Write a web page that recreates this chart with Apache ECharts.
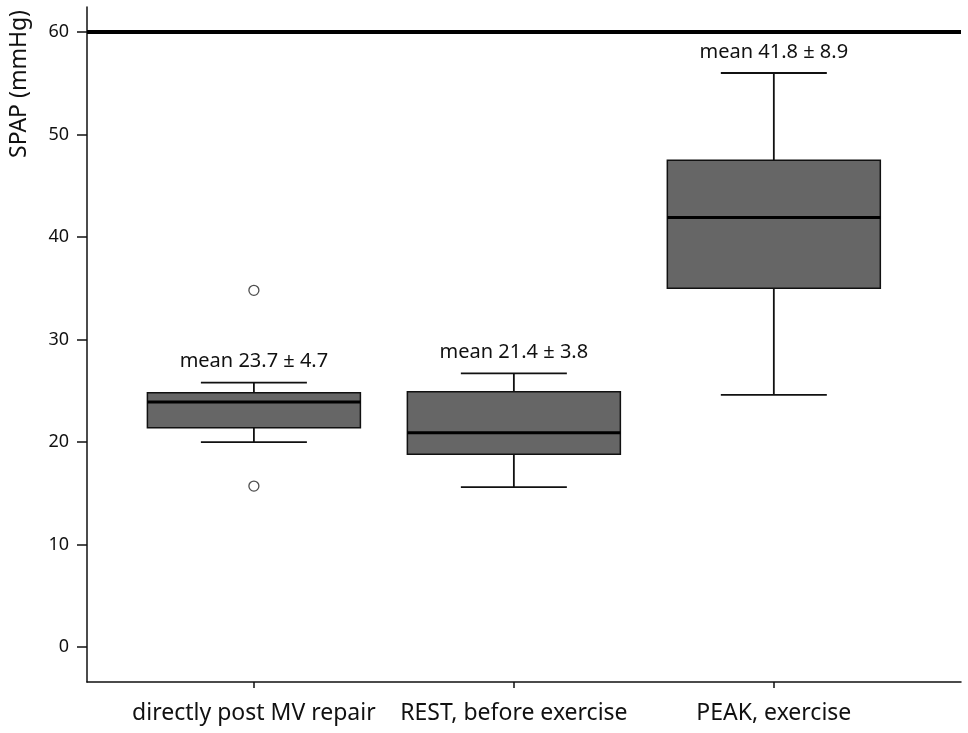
<!DOCTYPE html>
<html>
<head>
<meta charset="utf-8">
<script src="https://cdn.jsdelivr.net/npm/echarts@6/dist/echarts.min.js"></script>
<style>
html,body{margin:0;padding:0;background:#fff;}
#chart{width:968px;height:733px;}
</style>
</head>
<body>
<div id="chart"></div>
<script>
const categories = ['directly post MV repair', 'REST, before exercise', 'PEAK, exercise'];
const whiskerLow = [20.0, 15.6, 24.6];
const q1 = [21.4, 18.8, 35.0];
const median = [23.9, 20.9, 41.9];
const q3 = [24.8, 24.9, 47.5];
const whiskerHigh = [25.8, 26.7, 56.0];
const outliers = [[1, 34.8], [1, 15.7]];
const meanLabels = ['mean 23.7 \u00b1 4.7', 'mean 21.4 \u00b1 3.8', 'mean 41.8 \u00b1 8.9'];
const yTicks = [0, 10, 20, 30, 40, 50, 60];
const xTicks = [1, 2, 3];
const refLine = 60;

const FONT = 'Noto Sans';
const boxData = categories.map((c, i) => [i + 1, whiskerLow[i], q1[i], median[i], q3[i], whiskerHigh[i], i]);

const chart = echarts.init(document.getElementById('chart'));
chart.setOption({
  animation: false,
  backgroundColor: '#fff',
  grid: { left: 87, right: 7, top: 7, bottom: 51 },
  graphic: [{
    type: 'text',
    x: 19, y: 84,
    rotation: Math.PI / 2,
    style: {
      text: 'SPAP (mmHg)',
      font: '23px "Noto Sans"',
      fill: '#111',
      align: 'center',
      verticalAlign: 'middle'
    }
  }],
  xAxis: {
    type: 'value',
    min: 0.358,
    max: 3.72,
    splitLine: { show: false },
    axisLine: { show: true, onZero: false, lineStyle: { color: '#111', width: 1.5 } },
    axisTick: { show: true, customValues: xTicks, length: 6, lineStyle: { color: '#111', width: 1.5 } },
    axisLabel: {
      customValues: xTicks,
      formatter: v => categories[Math.round(v) - 1] || '',
      color: '#111',
      fontFamily: FONT,
      fontSize: 23,
      margin: 20
    }
  },
  yAxis: {
    type: 'value',
    min: -3.41,
    max: 62.44,
    splitLine: { show: false },
    axisLine: { show: true, lineStyle: { color: '#111', width: 1.5 } },
    axisTick: { show: true, customValues: yTicks, length: 10, lineStyle: { color: '#111', width: 1.5 } },
    axisLabel: {
      customValues: yTicks,
      color: '#111',
      fontFamily: FONT,
      fontSize: 18,
      margin: 18
    }
  },
  series: [
    {
      type: 'custom',
      data: boxData,
      renderItem: function (params, api) {
        const x = api.value(0);
        const pLow = api.coord([x, api.value(1)]);
        const pQ1 = api.coord([x, api.value(2)]);
        const pMed = api.coord([x, api.value(3)]);
        const pQ3 = api.coord([x, api.value(4)]);
        const pHigh = api.coord([x, api.value(5)]);
        const idx = api.value(6);
        const bw = 213, cw = 106;
        const cx = pMed[0];
        const lineStyle = { stroke: '#111', lineWidth: 1.8 };
        return {
          type: 'group',
          children: [
            { type: 'line', shape: { x1: cx, y1: pHigh[1], x2: cx, y2: pQ3[1] }, style: lineStyle },
            { type: 'line', shape: { x1: cx, y1: pQ1[1], x2: cx, y2: pLow[1] }, style: lineStyle },
            { type: 'line', shape: { x1: cx - cw / 2, y1: pHigh[1], x2: cx + cw / 2, y2: pHigh[1] }, style: lineStyle },
            { type: 'line', shape: { x1: cx - cw / 2, y1: pLow[1], x2: cx + cw / 2, y2: pLow[1] }, style: lineStyle },
            { type: 'rect', shape: { x: cx - bw / 2, y: pQ3[1], width: bw, height: pQ1[1] - pQ3[1] },
              style: { fill: '#666666', stroke: '#111', lineWidth: 1.5 } },
            { type: 'line', shape: { x1: cx - bw / 2, y1: pMed[1], x2: cx + bw / 2, y2: pMed[1] },
              style: { stroke: '#000', lineWidth: 3 } },
            { type: 'text', x: cx, y: pHigh[1] - 21,
              style: { text: meanLabels[idx], font: '20px "Noto Sans"', fill: '#111', align: 'center', verticalAlign: 'middle' } }
          ]
        };
      },
      markLine: {
        silent: true,
        symbol: 'none',
        label: { show: false },
        lineStyle: { color: '#000', width: 4, type: 'solid' },
        data: [{ yAxis: refLine }]
      },
      z: 3
    },
    {
      type: 'scatter',
      data: outliers,
      symbol: 'circle',
      symbolSize: 10,
      itemStyle: { color: '#fff', borderColor: '#222', borderWidth: 1.3 },
      z: 4
    }
  ]
});
</script>
</body>
</html>
